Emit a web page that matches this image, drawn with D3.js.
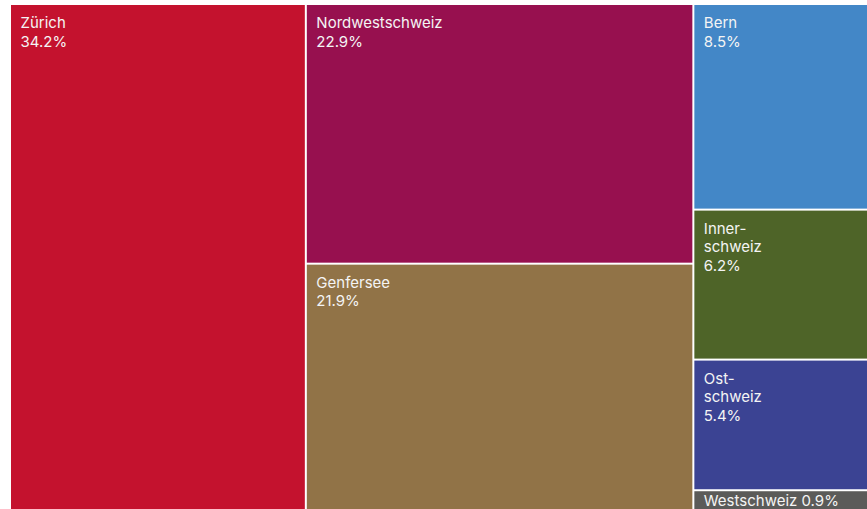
<!DOCTYPE html>
<html>
<head>
<meta charset="utf-8">
<script src="https://cdn.jsdelivr.net/npm/d3@7/dist/d3.min.js"></script>
<style>
  html, body { margin: 0; padding: 0; background: #fff; overflow: hidden; }
  svg { display: block; overflow: hidden; }
  text { font-family: Inter, "Noto Sans", sans-serif; font-size: 15px; fill: #f4f4f4; }
</style>
</head>
<body>
<svg id="chart" width="867" height="509"></svg>
<script>
// Share of total by region (percent)
const regions = ["Zürich", "Nordwestschweiz", "Genfersee", "Bern", "Innerschweiz", "Ostschweiz", "Westschweiz"];
const labelLines = [["Zürich"], ["Nordwestschweiz"], ["Genfersee"], ["Bern"], ["Inner-", "schweiz"], ["Ost-", "schweiz"], ["Westschweiz"]];
const shares = [34.2, 22.9, 21.9, 8.5, 6.2, 5.4, 0.9];
const colors = ["#c4122e", "#97104f", "#917347", "#4387c7", "#4e6428", "#3b4393", "#5b5b59"];
// Regions grouped into the vertical strips of the treemap
const strips = [["Zürich"], ["Nordwestschweiz", "Genfersee"], ["Bern", "Innerschweiz", "Ostschweiz", "Westschweiz"]];

const origin = { x: 11, y: 5 };
const plotW = 863, plotH = 506;

const leafData = regions.map((name, i) => ({ name, lines: labelLines[i], value: shares[i], color: colors[i] }));
const tree = {
  children: strips.map(names => ({ children: names.map(n => leafData.find(d => d.name === n)) }))
};

const root = d3.hierarchy(tree).sum(d => d.children ? 0 : d.value);

// Strips side by side, regions stacked inside each strip
d3.treemap()
  .tile(d3.treemapSliceDice)
  .size([plotW, plotH])
  .paddingInner(2)
  .round(false)(root);

const svg = d3.select("#chart");
const g = svg.append("g").attr("transform", `translate(${origin.x},${origin.y})`);

const fmt = v => d3.format(".1f")(v) + "%";

const cell = g.selectAll("g.cell")
  .data(root.leaves())
  .join("g")
  .attr("class", "cell")
  .attr("transform", d => `translate(${d.x0},${d.y0})`);

cell.append("rect")
  .attr("width", d => d.x1 - d.x0)
  .attr("height", d => d.y1 - d.y0)
  .attr("fill", d => d.data.color);

cell.each(function (d) {
  const h = d.y1 - d.y0;
  const sel = d3.select(this);
  if (h < 40) {
    // Too short for stacked lines: name and share on one line
    sel.append("text")
      .attr("x", 9.5)
      .attr("y", 15)
      .text(d.data.name + " " + fmt(d.value));
  } else {
    const lines = d.data.lines.concat([fmt(d.value)]);
    const t = sel.append("text").attr("x", 9.5).attr("y", 23);
    lines.forEach((ln, i) => {
      t.append("tspan")
        .attr("x", 9.5)
        .attr("dy", i === 0 ? 0 : 18.5)
        .text(ln);
    });
  }
});
</script>
</body>
</html>
